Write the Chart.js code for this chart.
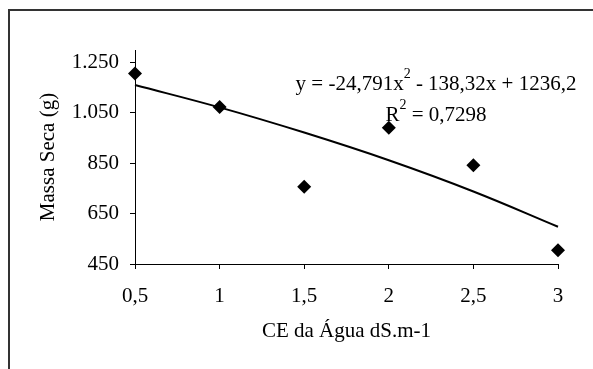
<!DOCTYPE html>
<html>
<head>
<meta charset="utf-8">
<script src="https://cdn.jsdelivr.net/npm/chart.js@4/dist/chart.umd.min.js"></script>
<style>
  html, body { margin: 0; padding: 0; background: #fff; }
  #wrap { position: relative; width: 593px; height: 369px; }
  #frame {
    position: absolute; left: 8px; top: 9px; right: 0; bottom: 0;
    border-top: 2px solid #333; border-left: 2px solid #333;
  }
</style>
</head>
<body>
<div id="wrap">
  <div id="frame"></div>
  <canvas id="chart" width="593" height="369"></canvas>
</div>
<script>
// CE da água (dS/m) e massa seca medida
const ceValues = [0.5, 1, 1.5, 2, 2.5, 3];
const massaSeca = [1207, 1074, 757, 991, 842, 505];
// linha de tendência polinomial
const tendencia = [1161, 1072, 972, 862, 738, 598];
const yTickValues = [450, 650, 850, 1050, 1250];

const eqLine = ['y = -24,791x', '2', ' - 138,32x + 1236,2'];
const r2Line = ['R', '2', ' = 0,7298'];

const FONT = '"Liberation Serif", "Times New Roman", serif';
const FS = 21;

const fmtBR = (v) => String(v).replace('.', ',');
const fmtThousands = (v) => v >= 1000 ? Math.floor(v / 1000) + '.' + String(v % 1000).padStart(3, '0') : String(v);

// desenha a equação com expoente
const equationPlugin = {
  id: 'equation',
  afterDraw(chart) {
    const ctx = chart.ctx;
    const drawLine = (parts, cx, baseline) => {
      ctx.font = FS + 'px ' + FONT;
      const w0 = ctx.measureText(parts[0]).width;
      const w2 = ctx.measureText(parts[2]).width;
      ctx.font = '14px ' + FONT;
      const w1 = ctx.measureText(parts[1]).width;
      let x = cx - (w0 + w1 + w2) / 2;
      ctx.save();
      ctx.fillStyle = '#000';
      ctx.textBaseline = 'alphabetic';
      ctx.textAlign = 'left';
      ctx.font = FS + 'px ' + FONT;
      ctx.fillText(parts[0], x, baseline);
      x += w0;
      ctx.font = '14px ' + FONT;
      ctx.fillText(parts[1], x, baseline - 12);
      x += w1;
      ctx.font = FS + 'px ' + FONT;
      ctx.fillText(parts[2], x, baseline);
      ctx.restore();
    };
    drawLine(eqLine, 436, 90);
    drawLine(r2Line, 436, 121);
  }
};

new Chart(document.getElementById('chart'), {
  type: 'scatter',
  data: {
    datasets: [
      {
        label: 'Massa seca',
        data: ceValues.map((x, i) => ({ x, y: massaSeca[i] })),
        pointStyle: 'rectRot',
        pointRadius: 7,
        pointHoverRadius: 7,
        backgroundColor: '#000',
        borderColor: '#000',
        borderWidth: 0,
        showLine: false,
        clip: false,
        order: 0,
      },
      {
        label: 'Polinomial',
        data: ceValues.map((x, i) => ({ x, y: tendencia[i] })),
        showLine: true,
        pointRadius: 0,
        borderColor: '#000',
        borderWidth: 2,
        tension: 0.4,
        fill: false,
        clip: false,
        order: 1,
      },
    ],
  },
  options: {
    responsive: false,
    animation: false,
    events: [],
    layout: { padding: { top: 50, right: 35, left: 0, bottom: 0 } },
    plugins: {
      legend: { display: false },
      tooltip: { enabled: false },
    },
    scales: {
      x: {
        type: 'linear',
        min: 0.5,
        max: 3,
        afterFit(scale) { scale.height = 105; },
        ticks: {
          stepSize: 0.5,
          padding: 15,
          color: '#000',
          font: { family: FONT, size: FS },
          callback: (v) => fmtBR(v),
        },
        grid: { drawOnChartArea: false, drawTicks: true, tickLength: 5, color: '#000' },
        border: { display: true, color: '#000', width: 1 },
        title: {
          display: true,
          text: 'CE da Água dS.m-1',
          color: '#000',
          font: { family: FONT, size: FS },
          padding: { top: 25, bottom: 25 },
        },
      },
      y: {
        type: 'linear',
        min: 450,
        max: 1300,
        afterFit(scale) { scale.width = 135; },
        afterBuildTicks(scale) { scale.ticks = yTickValues.map((v) => ({ value: v })); },
        ticks: {
          padding: 11,
          color: '#000',
          font: { family: FONT, size: FS },
          callback: (v) => fmtThousands(v),
        },
        grid: { drawOnChartArea: false, drawTicks: true, tickLength: 5, color: '#000' },
        border: { display: true, color: '#000', width: 1 },
        title: {
          display: true,
          text: 'Massa Seca (g)',
          color: '#000',
          font: { family: FONT, size: FS },
          padding: { top: 36, bottom: 36 },
        },
      },
    },
  },
  plugins: [equationPlugin],
});
</script>
</body>
</html>
